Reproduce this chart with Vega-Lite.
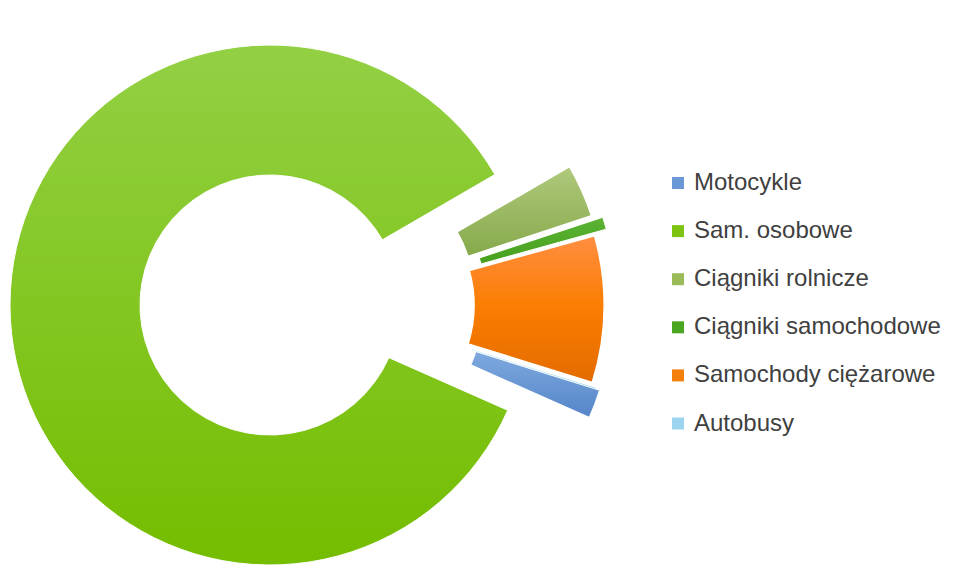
{
  "$schema": "https://vega.github.io/schema/vega-lite/v6.json",
  "width": 520,
  "height": 520,
  "autosize": {"type": "none"},
  "padding": {"left": 10, "top": 45, "right": 426, "bottom": 18},
  "background": "white",
  "config": {"view": {"stroke": null}},
  "data": {
    "values": [
      {"category": "Motocykle", "value": 1.8},
      {"category": "Sam. osobowe", "value": 85.0},
      {"category": "Ciągniki rolnicze", "value": 3.3},
      {"category": "Ciągniki samochodowe", "value": 0.76},
      {"category": "Samochody ciężarowe", "value": 9.1},
      {"category": "Autobusy", "value": 0.04}
    ]
  },
  "transform": [{"stack": "value", "groupby": [], "as": ["start", "end"]}],
  "layer": [
    {
      "transform": [{"filter": "datum.category === 'Sam. osobowe'"}],
      "mark": {"type": "arc", "innerRadius": 130, "outerRadius": 260, "stroke": "white", "strokeWidth": 1,
        "fill": {"gradient": "linear", "x1": 0, "y1": 0, "x2": 0, "y2": 1, "stops": [{"offset": 0, "color": "#93d044"}, {"offset": 1, "color": "#74bd00"}]}},
      "encoding": {
        "theta": {"field": "start", "type": "quantitative", "scale": {"domain": [0, 100], "range": [1.8745, 8.1577]}},
        "theta2": {"field": "end"}
      }
    },
    {
      "transform": [{"filter": "datum.category === 'Motocykle'"}],
      "mark": {"type": "arc", "innerRadius": 130, "outerRadius": 260, "stroke": "white", "strokeWidth": 1.5,
        "fill": {"gradient": "linear", "x1": 0, "y1": 0, "x2": 0, "y2": 1, "stops": [{"offset": 0, "color": "#7eaadf"}, {"offset": 1, "color": "#5585c8"}]},
        "xOffset": {"expr": "82*sin(PI/2+0.25*(((1.8745+PI*(datum.start+datum.end)/100)%(2*PI))-PI/2))"},
        "yOffset": {"expr": "-82*cos(PI/2+0.25*(((1.8745+PI*(datum.start+datum.end)/100)%(2*PI))-PI/2))"}},
      "encoding": {
        "theta": {"field": "start", "type": "quantitative", "scale": {"domain": [0, 100], "range": [1.8745, 8.1577]}},
        "theta2": {"field": "end"}
      }
    },
    {
      "transform": [{"filter": "datum.category === 'Ciągniki rolnicze'"}],
      "mark": {"type": "arc", "innerRadius": 130, "outerRadius": 260, "stroke": "white", "strokeWidth": 1.5,
        "fill": {"gradient": "linear", "x1": 0, "y1": 0, "x2": 0, "y2": 1, "stops": [{"offset": 0, "color": "#b0c97c"}, {"offset": 1, "color": "#86a94b"}]},
        "xOffset": {"expr": "75*sin(PI/2+0.25*(((1.8745+PI*(datum.start+datum.end)/100)%(2*PI))-PI/2))"},
        "yOffset": {"expr": "-75*cos(PI/2+0.25*(((1.8745+PI*(datum.start+datum.end)/100)%(2*PI))-PI/2))"}},
      "encoding": {
        "theta": {"field": "start", "type": "quantitative", "scale": {"domain": [0, 100], "range": [1.8745, 8.1577]}},
        "theta2": {"field": "end"}
      }
    },
    {
      "transform": [{"filter": "datum.category === 'Ciągniki samochodowe'"}],
      "mark": {"type": "arc", "innerRadius": 130, "outerRadius": 260, "stroke": "white", "strokeWidth": 1,
        "fill": {"gradient": "linear", "x1": 0, "y1": 0, "x2": 0, "y2": 1, "stops": [{"offset": 0, "color": "#5cb334"}, {"offset": 1, "color": "#46a01c"}]},
        "xOffset": {"expr": "86*sin(PI/2+0.25*(((1.8745+PI*(datum.start+datum.end)/100)%(2*PI))-PI/2))"},
        "yOffset": {"expr": "-86*cos(PI/2+0.25*(((1.8745+PI*(datum.start+datum.end)/100)%(2*PI))-PI/2))"}},
      "encoding": {
        "theta": {"field": "start", "type": "quantitative", "scale": {"domain": [0, 100], "range": [1.8745, 8.1577]}},
        "theta2": {"field": "end"}
      }
    },
    {
      "transform": [{"filter": "datum.category === 'Samochody ciężarowe'"}],
      "mark": {"type": "arc", "innerRadius": 130, "outerRadius": 260, "stroke": "white", "strokeWidth": 1.5,
        "fill": {"gradient": "linear", "x1": 0, "y1": 0, "x2": 0, "y2": 1, "stops": [{"offset": 0, "color": "#ff8e40"}, {"offset": 0.5, "color": "#fb7d00"}, {"offset": 1, "color": "#e36b00"}]},
        "xOffset": {"expr": "74*sin(PI/2+0.25*(((1.8745+PI*(datum.start+datum.end)/100)%(2*PI))-PI/2))"},
        "yOffset": {"expr": "-74*cos(PI/2+0.25*(((1.8745+PI*(datum.start+datum.end)/100)%(2*PI))-PI/2))"}},
      "encoding": {
        "theta": {"field": "start", "type": "quantitative", "scale": {"domain": [0, 100], "range": [1.8745, 8.1577]}},
        "theta2": {"field": "end"}
      }
    },
    {
      "transform": [{"filter": "datum.category === 'Autobusy'"}],
      "mark": {"type": "arc", "innerRadius": 130, "outerRadius": 260, "strokeWidth": 0,
        "fill": "#9dd4ef",
        "xOffset": {"expr": "78*sin(PI/2+0.25*(((1.8745+PI*(datum.start+datum.end)/100)%(2*PI))-PI/2))"},
        "yOffset": {"expr": "-78*cos(PI/2+0.25*(((1.8745+PI*(datum.start+datum.end)/100)%(2*PI))-PI/2))"}},
      "encoding": {
        "theta": {"field": "start", "type": "quantitative", "scale": {"domain": [0, 100], "range": [1.8745, 8.1577]}},
        "theta2": {"field": "end"}
      }
    },
    {
      "mark": {"type": "arc", "innerRadius": 130, "outerRadius": 260, "opacity": 0},
      "encoding": {
        "theta": {"field": "start", "type": "quantitative", "scale": {"domain": [0, 100], "range": [1.8745, 8.1577]}},
        "theta2": {"field": "end"},
        "color": {
          "field": "category",
          "type": "nominal",
          "sort": null,
          "scale": {
            "domain": ["Motocykle", "Sam. osobowe", "Ciągniki rolnicze", "Ciągniki samochodowe", "Samochody ciężarowe", "Autobusy"],
            "range": ["#6a98d6", "#7dc30f", "#9bbb59", "#4aa520", "#f57f0c", "#9dd4ef"]
          },
          "legend": {
            "title": null,
            "orient": "none",
            "legendX": 656,
            "legendY": 126,
            "padding": 0,
            "symbolType": "square",
            "symbolSize": 144,
            "symbolOpacity": 1,
            "symbolStrokeWidth": 0,
            "labelFont": "Liberation Sans",
            "labelFontSize": 24,
            "labelColor": "#404040",
            "labelOffset": 4,
            "labelLimit": 400,
            "rowPadding": 24.1
          }
        }
      }
    }
  ]
}
